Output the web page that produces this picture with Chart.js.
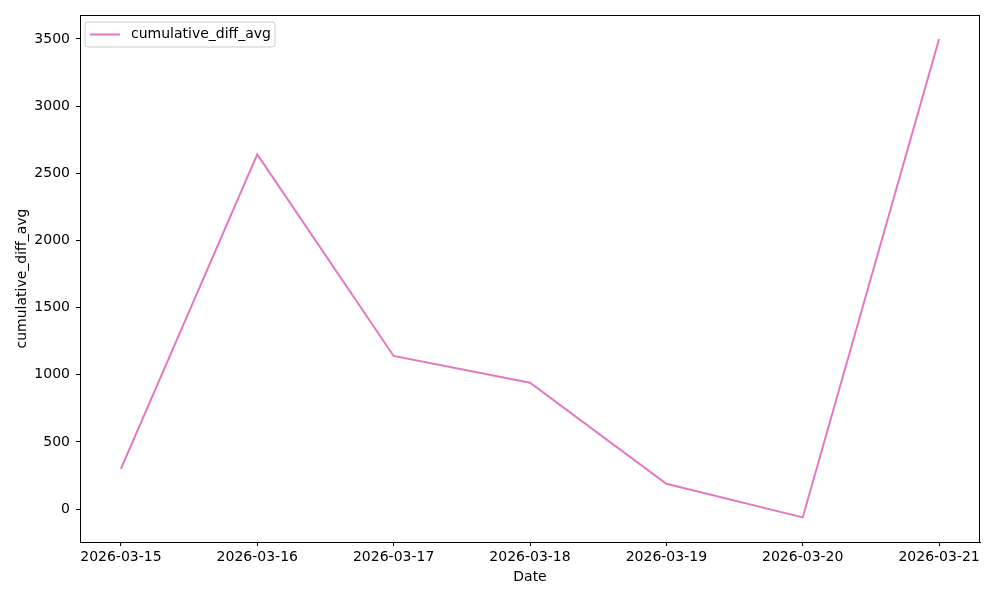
<!DOCTYPE html>
<html>
<head>
<meta charset="utf-8">
<script src="https://cdn.jsdelivr.net/npm/chart.js@4"></script>
<style>
html,body{margin:0;padding:0;background:#fff;}
#wrap{width:1000px;height:600px;position:relative;}
</style>
</head>
<body>
<div id="wrap"><canvas id="c" width="1000" height="600"></canvas></div>
<script>
const categories = ["2026-03-15","2026-03-16","2026-03-17","2026-03-18","2026-03-19","2026-03-20","2026-03-21"];
const seriesName = "cumulative_diff_avg";
const seriesValues = [300, 2640, 1140, 940, 188, -62, 3500];
const yTicks = [0, 500, 1000, 1500, 2000, 2500, 3000, 3500];

const FONT = "'DejaVu Sans', sans-serif";
const FSIZE = 14;
const LINE_COLOR = "#e377c2";

const points = seriesValues.map((v, i) => ({x: i, y: v}));

const framePlugin = {
  id: 'frame',
  afterDatasetsDraw(chart) {
    const {ctx, chartArea: a} = chart;
    ctx.save();
    ctx.strokeStyle = '#000';
    ctx.lineWidth = 1;
    ctx.strokeRect(Math.round(a.left) + 0.5, Math.round(a.top) + 0.5, Math.round(a.right - a.left) - 1, Math.round(a.bottom - a.top));
    ctx.restore();
  }
};

const legendPlugin = {
  id: 'mplLegend',
  afterDraw(chart) {
    const {ctx, chartArea: a} = chart;
    const ds = chart.data.datasets[0];
    ctx.save();
    ctx.font = FSIZE + "px " + FONT;
    const tw = ctx.measureText(ds.label).width;
    const x0 = a.left + 5, y0 = a.top + 7;
    const w = 45 + tw + 5, h = 25;
    const r = 3;
    ctx.beginPath();
    ctx.moveTo(x0 + r, y0);
    ctx.lineTo(x0 + w - r, y0);
    ctx.quadraticCurveTo(x0 + w, y0, x0 + w, y0 + r);
    ctx.lineTo(x0 + w, y0 + h - r);
    ctx.quadraticCurveTo(x0 + w, y0 + h, x0 + w - r, y0 + h);
    ctx.lineTo(x0 + r, y0 + h);
    ctx.quadraticCurveTo(x0, y0 + h, x0, y0 + h - r);
    ctx.lineTo(x0, y0 + r);
    ctx.quadraticCurveTo(x0, y0, x0 + r, y0);
    ctx.closePath();
    ctx.fillStyle = 'rgba(255,255,255,0.8)';
    ctx.fill();
    ctx.strokeStyle = '#cccccc';
    ctx.lineWidth = 1;
    ctx.stroke();
    const cy = y0 + h / 2;
    ctx.strokeStyle = ds.borderColor;
    ctx.lineWidth = 2;
    ctx.beginPath();
    ctx.moveTo(x0 + 5, cy);
    ctx.lineTo(x0 + 35, cy);
    ctx.stroke();
    ctx.fillStyle = '#000';
    ctx.textBaseline = 'middle';
    ctx.fillText(ds.label, x0 + 46, cy);
    ctx.restore();
  }
};

new Chart(document.getElementById('c'), {
  type: 'line',
  data: {
    datasets: [{
      label: seriesName,
      data: points,
      borderColor: LINE_COLOR,
      backgroundColor: LINE_COLOR,
      borderWidth: 2,
      pointRadius: 0,
      tension: 0,
      fill: false
    }]
  },
  options: {
    responsive: false,
    animation: false,
    devicePixelRatio: 1,
    layout: {padding: {top: 15, right: 20, left: 14, bottom: 14}},
    plugins: {legend: {display: false}, tooltip: {enabled: false}},
    scales: {
      x: {
        type: 'linear',
        min: -0.3,
        max: 6.3,
        afterBuildTicks(scale) {
          scale.ticks = categories.map((c, i) => ({value: i}));
        },
        afterFit(scale) { scale.height = 44; },
        ticks: {
          callback: (v) => categories[v] ?? '',
          color: '#000',
          font: {family: FONT, size: FSIZE},
          maxRotation: 0,
          autoSkip: false,
          padding: 3
        },
        grid: {display: true, drawOnChartArea: false, drawTicks: true, tickLength: 4, color: '#000', lineWidth: 1},
        border: {display: true, color: '#000', width: 1},
        title: {display: true, text: 'Date', color: '#000', font: {family: FONT, size: FSIZE}, padding: {top: 0, bottom: 0}}
      },
      y: {
        type: 'linear',
        min: -245,
        max: 3678,
        afterBuildTicks(scale) {
          scale.ticks = yTicks.map(v => ({value: v}));
        },
        afterFit(scale) { scale.width = 66; },
        ticks: {
          color: '#000',
          font: {family: FONT, size: FSIZE},
          padding: 6,
          callback: (v) => String(v)
        },
        grid: {display: true, drawOnChartArea: false, drawTicks: true, tickLength: 4, color: '#000', lineWidth: 1},
        border: {display: true, color: '#000', width: 1},
        title: {display: true, text: seriesName, color: '#000', font: {family: FONT, size: FSIZE}, padding: {top: 0, bottom: 0}}
      }
    }
  },
  plugins: [framePlugin, legendPlugin]
});
</script>
</body>
</html>
